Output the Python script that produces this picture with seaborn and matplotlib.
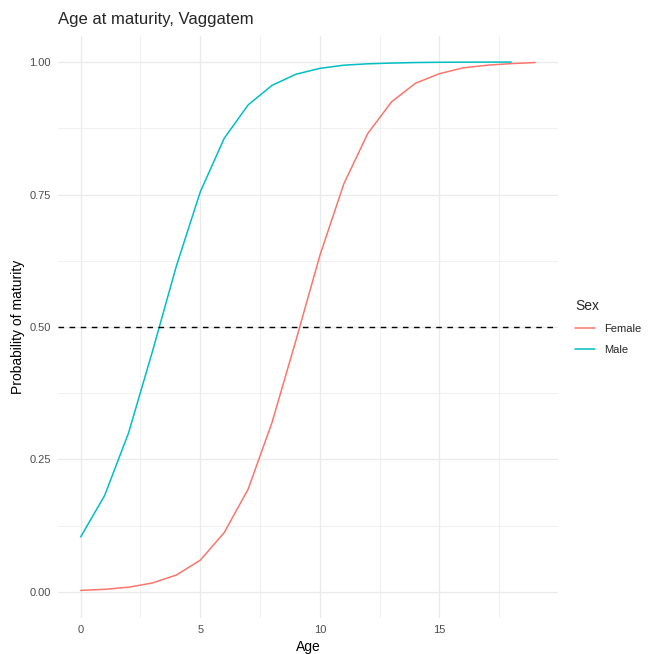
import pandas as pd
import matplotlib.pyplot as plt
import seaborn as sns

age_female = list(range(0, 20))
prob_female = [0.003, 0.005, 0.009, 0.017, 0.032, 0.060, 0.112, 0.194, 0.320, 0.475,
               0.635, 0.770, 0.865, 0.925, 0.960, 0.978, 0.989, 0.994, 0.997, 0.999]
age_male = list(range(0, 19))
prob_male = [0.104, 0.182, 0.300, 0.454, 0.615, 0.755, 0.856, 0.919, 0.956, 0.977,
             0.988, 0.994, 0.9966, 0.998, 0.999, 0.9995, 0.9997, 0.9998, 0.9999]

df = pd.concat([
    pd.DataFrame({'Age': age_female, 'prob': prob_female, 'Sex': 'Female'}),
    pd.DataFrame({'Age': age_male, 'prob': prob_male, 'Sex': 'Male'}),
])

sns.set_style('white')
plt.rcParams['font.family'] = ['Liberation Sans', 'DejaVu Sans']

fig = plt.figure(figsize=(6.61, 6.54), dpi=100)
ax = fig.add_axes([0.0877, 0.0543, 0.7563, 0.8914])

grid_col = '#EBEBEB'
for v in [2.5, 7.5, 12.5, 17.5]:
    ax.axvline(v, color=grid_col, lw=0.5, zorder=0)
for v in [0.125, 0.375, 0.625, 0.875]:
    ax.axhline(v, color=grid_col, lw=0.5, zorder=0)
for v in [0, 5, 10, 15]:
    ax.axvline(v, color=grid_col, lw=1.0, zorder=0)
for v in [0, 0.25, 0.5, 0.75, 1.0]:
    ax.axhline(v, color=grid_col, lw=1.0, zorder=0)

sns.lineplot(data=df, x='Age', y='prob', hue='Sex',
             palette={'Female': '#F8766D', 'Male': '#00BFC4'},
             lw=1.1, ax=ax, legend=True)
ax.axhline(0.5, color='black', ls=(0, (4, 4)), lw=1.0)

ax.set_xlim(-0.95, 19.95)
ax.set_ylim(-0.05, 1.05)
ax.set_xticks([0, 5, 10, 15])
ax.set_yticks([0, 0.25, 0.5, 0.75, 1.0])
ax.set_yticklabels(['0.00', '0.25', '0.50', '0.75', '1.00'])
ax.tick_params(length=0, labelsize=8, colors='#4D4D4D', pad=5)
for s in ax.spines.values():
    s.set_visible(False)

ax.set_xlabel('Age', fontsize=10, color='black', labelpad=3)
ax.set_ylabel('Probability of maturity', fontsize=10, color='black', labelpad=3)
ax.set_title('Age at maturity, Vaggatem', loc='left', fontsize=12, pad=8)

leg = ax.legend(title='Sex', loc='center left', bbox_to_anchor=(1.015, 0.5),
                frameon=False, fontsize=8, title_fontsize=10,
                handlelength=1.8, labelspacing=1.0, alignment='left')

fig.savefig('out.png', dpi=100)
